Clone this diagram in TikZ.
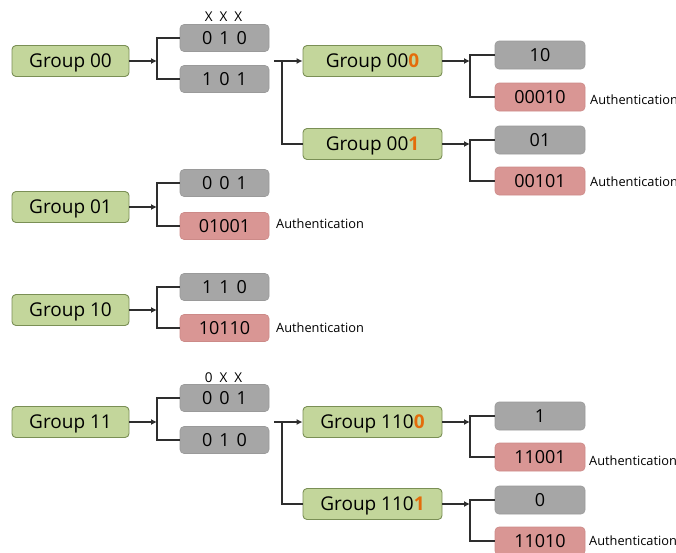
\documentclass[tikz,border=0pt]{standalone}
\usepackage{fontspec}
\setmainfont{Open Sans}
\usetikzlibrary{arrows.meta}
\definecolor{gfill}{HTML}{C3D69B}
\definecolor{gdraw}{HTML}{7A8F55}
\definecolor{kfill}{HTML}{A6A6A6}
\definecolor{kdraw}{HTML}{9A9A9A}
\definecolor{rfill}{HTML}{D99694}
\definecolor{rdraw}{HTML}{CC8A88}
\definecolor{orng}{HTML}{E46C0A}
\definecolor{lne}{HTML}{2E2E2E}
\newcommand{\tri}[3]{#1\hspace{7pt}#2\hspace{7pt}#3}
\newcommand{\xtri}[3]{#1\hspace{7pt}#2\hspace{7pt}#3}
\newcommand{\og}[1]{\textcolor{orng}{\bfseries #1}}
\tikzset{
  grp/.style={draw=gdraw, fill=gfill, rounded corners=4pt, line width=0.9pt, minimum width=117pt, minimum height=31pt, inner sep=0pt, text depth=0pt, font=\fontsize{19}{22}\selectfont, text=black},
  grpR/.style={grp, minimum width=139pt},
  gbox/.style={draw=kdraw, fill=kfill, rounded corners=4pt, line width=0.6pt, minimum width=89pt, minimum height=27pt, inner sep=0pt, text depth=0pt, font=\fontsize{18}{21}\selectfont},
  rbox/.style={gbox, draw=rdraw, fill=rfill},
  gboxR/.style={gbox, minimum width=90pt, minimum height=28pt},
  rboxR/.style={rbox, minimum width=90pt, minimum height=28pt},
  auth/.style={anchor=west, inner sep=0pt, font=\fontsize{12.8}{14}\selectfont},
  xlab/.style={inner sep=0pt, text depth=0pt, font=\fontsize{13.5}{15}\selectfont},
  ln/.style={draw=lne, line width=1.2pt},
  arr/.style={ln, -{Latex[length=6pt,width=6pt]}},
}
\begin{document}
\begin{tikzpicture}[x=1pt, y=-1pt]
\useasboundingbox (0,0) rectangle (676,552);

% ---------- Group 00 ----------
\node[grp] (g00) at (70.5,61) {Group 00};
\node[gbox] (b00a) at (224.5,38) {\tri010};
\node[gbox] (b00b) at (224.5,79) {\tri101};
\node[xlab] (x00) at (223.5,17) {\xtri XXX};
\coordinate (j00) at (157,61);
\draw[arr] (g00.east) -- (j00);
\draw[ln] (b00a.west) -| (j00) |- (b00b.west);

\coordinate (s00) at (274,61);
\coordinate (k00) at (282,61);
\node[grpR] (g000) at (372.5,61) {Group 00\og{0}};
\node[grpR] (g001) at (372.5,144) {Group 00\og{1}};
\draw[arr] (s00) -- (g000.west);
\draw[ln] (k00) |- (g001.west);

\node[gboxR] (b000a) at (540,55) {10};
\node[rboxR] (b000b) at (540,97) {00010};
\node[auth] (a000) at (590,100) {Authentication};
\coordinate (j000) at (470,61);
\draw[arr] (g000.east) -- (j000);
\draw[ln] (b000a.west) -| (j000) |- (b000b.west);

\node[gboxR] (b001a) at (540,140) {01};
\node[rboxR] (b001b) at (540,181) {00101};
\node[auth] (a001) at (590,182) {Authentication};
\coordinate (j001) at (470,144);
\draw[arr] (g001.east) -- (j001);
\draw[ln] (b001a.west) -| (j001) |- (b001b.west);

% ---------- Group 01 ----------
\node[grp] (g01) at (70.5,207) {Group 01};
\node[gbox] (b01a) at (224.5,183) {\tri001};
\node[rbox] (b01b) at (224.5,226) {01001};
\node[auth] (a01) at (276,224) {Authentication};
\coordinate (j01) at (157,207);
\draw[arr] (g01.east) -- (j01);
\draw[ln] (b01a.west) -| (j01) |- (b01b.west);

% ---------- Group 10 ----------
\node[grp] (g10) at (70.5,310) {Group 10};
\node[gbox] (b10a) at (224.5,287) {\tri110};
\node[rbox] (b10b) at (224.5,328) {10110};
\node[auth] (a10) at (276,328) {Authentication};
\coordinate (j10) at (157,310);
\draw[arr] (g10.east) -- (j10);
\draw[ln] (b10a.west) -| (j10) |- (b10b.west);

% ---------- Group 11 ----------
\node[grp] (g11) at (70.5,422) {Group 11};
\node[gbox] (b11a) at (224.5,398) {\tri001};
\node[gbox] (b11b) at (224.5,440) {\tri010};
\node[xlab] (x11) at (223.5,378) {\xtri 0XX};
\coordinate (j11) at (157,422);
\draw[arr] (g11.east) -- (j11);
\draw[ln] (b11a.west) -| (j11) |- (b11b.west);

\coordinate (s11) at (274,422);
\coordinate (k11) at (282,422);
\node[grpR] (g1100) at (372.5,422) {Group 110\og{0}};
\node[grpR] (g1101) at (372.5,504) {Group 110\og{1}};
\draw[arr] (s11) -- (g1100.west);
\draw[ln] (k11) |- (g1101.west);

\node[gboxR] (b1100a) at (540,416) {1};
\node[rboxR] (b1100b) at (540,457) {11001};
\node[auth] (a1100) at (589,461) {Authentication};
\coordinate (j1100) at (470,422);
\draw[arr] (g1100.east) -- (j1100);
\draw[ln] (b1100a.west) -| (j1100) |- (b1100b.west);

\node[gboxR] (b1101a) at (540,500) {0};
\node[rboxR] (b1101b) at (540,541) {11010};
\node[auth] (a1101) at (589,541) {Authentication};
\coordinate (j1101) at (470,504);
\draw[arr] (g1101.east) -- (j1101);
\draw[ln] (b1101a.west) -| (j1101) |- (b1101b.west);
\end{tikzpicture}
\end{document}
